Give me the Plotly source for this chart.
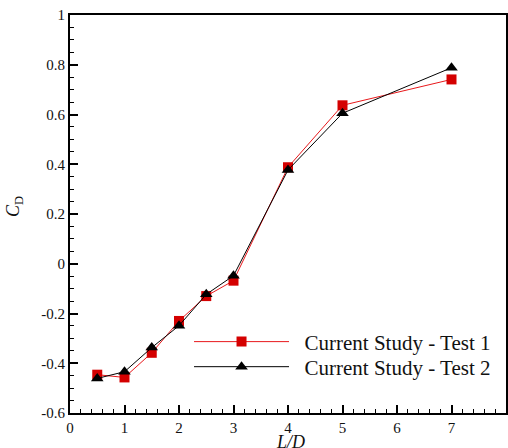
import plotly.graph_objects as go

ld = [0.5, 1, 1.5, 2, 2.5, 3, 4, 5, 7]
cd_test1 = [-0.446, -0.457, -0.358, -0.230, -0.130, -0.068, 0.388, 0.637, 0.741]
cd_test2 = [-0.461, -0.434, -0.337, -0.249, -0.123, -0.048, 0.377, 0.605, 0.788]
name1 = "Current Study - Test 1"
name2 = "Current Study - Test 2"
xticks = [0, 1, 2, 3, 4, 5, 6, 7, 8]
yticks = [-0.6, -0.4, -0.2, 0, 0.2, 0.4, 0.6, 0.8, 1]
xtitle = "<i>L/D</i>"
ytitle = "<i>C</i><sub>D</sub>"

font = "Liberation Serif"

fig = go.Figure()
fig.add_trace(go.Scatter(x=ld, y=cd_test1, name="\u2002" + name1, mode="lines+markers",
                         line=dict(color="#e8181b", width=1), legend="legend",
                         marker=dict(symbol="square", size=10, color="#d40000")))
fig.add_trace(go.Scatter(x=ld, y=cd_test2, name="\u2002" + name2, mode="lines+markers",
                         line=dict(color="#000000", width=1), legend="legend2",
                         marker=dict(symbol="triangle-up", size=11, color="#000000")))

axis_common = dict(showline=True, linecolor="black", linewidth=2, mirror=True,
                   ticks="inside", ticklen=8, tickwidth=2, tickcolor="black",
                   showgrid=False, zeroline=False, automargin=False,
                   tickfont=dict(family=font, size=15, color="#111"))

fig.update_xaxes(range=[0, 8], tickvals=xticks, ticktext=[str(v) for v in xticks],
                 minor=dict(ticks="inside", ticklen=4, tickwidth=1, tickcolor="black", dtick=0.2),
                 **axis_common)
fig.update_yaxes(range=[-0.6, 1], tickvals=yticks, ticktext=[("%g" % v) for v in yticks],
                 minor=dict(ticks="inside", ticklen=4, tickwidth=1, tickcolor="black", dtick=0.05),
                 **axis_common)

fig.add_annotation(text=xtitle, xref="paper", yref="paper", x=0.505, y=-0.072,
                   xanchor="center", yanchor="middle", showarrow=False,
                   font=dict(family=font, size=18, color="#111"))
fig.add_annotation(text=ytitle, xref="paper", yref="paper", x=-0.126, y=0.518,
                   xanchor="center", yanchor="middle", showarrow=False, textangle=-90,
                   font=dict(family=font, size=18, color="#111"))

legend_common = dict(xanchor="left", yanchor="top", bgcolor="rgba(0,0,0,0)", itemwidth=95,
                     font=dict(family=font, size=21, color="#111"))

fig.update_layout(
    width=508, height=448,
    margin=dict(l=70, r=2, t=15, b=35),
    plot_bgcolor="white", paper_bgcolor="white",
    font=dict(family=font, color="#111"),
    showlegend=True,
    legend=dict(x=0.273, y=0.230, **legend_common),
    legend2=dict(x=0.273, y=0.167, **legend_common),
)

fig.write_html("out.html", config={"displayModeBar": False},
               post_script="document.body.style.margin='0';")
